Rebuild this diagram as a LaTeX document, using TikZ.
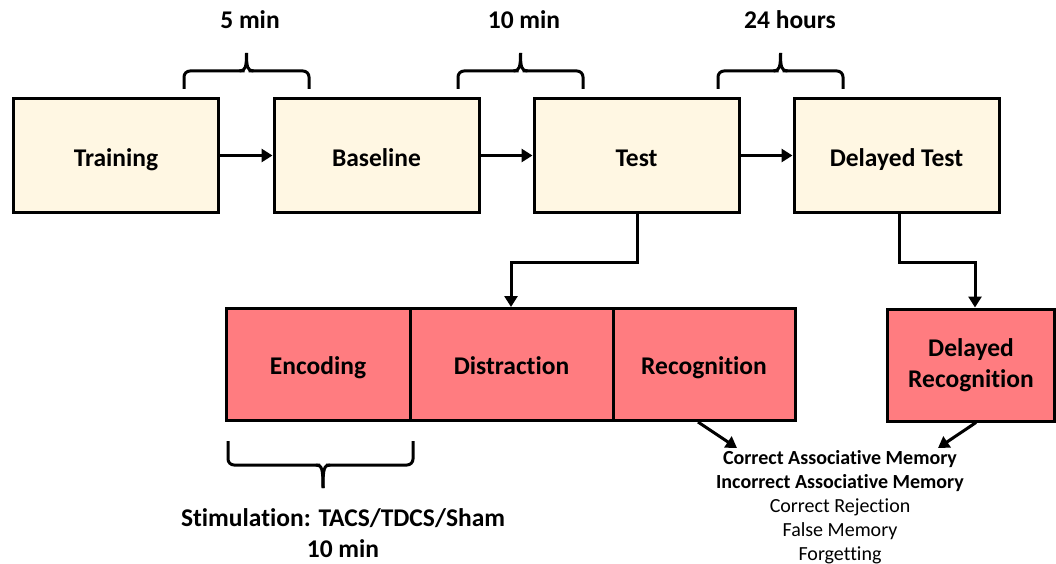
\documentclass[tikz,border=0pt]{standalone}
\usepackage{fontspec}
\setmainfont{Carlito}[Ligatures=NoCommon]
\usetikzlibrary{arrows.meta}
\definecolor{beige}{HTML}{FFF7E3}
\definecolor{pinkred}{HTML}{FF7C80}
\begin{document}
\begin{tikzpicture}[x=1pt,y=-1pt,
  stage/.style={draw=black, line width=3pt, fill=beige, minimum width=205pt, minimum height=114pt, inner sep=0pt, text height=22pt, text depth=0pt, font=\fontsize{25.5}{30}\selectfont\bfseries},
  phase/.style={draw=black, line width=3pt, fill=pinkred, minimum height=112pt, inner sep=0pt, align=center, font=\fontsize{25.5}{31}\selectfont\bfseries},
  oneline/.style={text height=19pt, text depth=0pt},
  conn/.style={line width=3pt, -{Triangle[length=11pt,width=13pt]}},
  brace/.style={line width=3pt, rounded corners=6pt},
  lbl/.style={font=\fontsize{25.5}{30.5}\selectfont\bfseries, align=center, inner sep=0pt},
  outcome/.style={font=\fontsize{20}{24}\selectfont, align=center, inner sep=0pt}
]
\useasboundingbox (0,0) rectangle (1056,564);

% top row
\node[stage] (train) at (116,155.5) {Training};
\node[stage] (base) at (376.5,155.5) {Baseline};
\node[stage] (test) at (636.5,155.5) {Test};
\node[stage] (dtest) at (896.5,155.5) {Delayed Test};

\draw[conn] (train.east) -- (base.west);
\draw[conn] (base.east) -- (test.west);
\draw[conn] (test.east) -- (dtest.west);

% bottom row
\node[phase, oneline, minimum width=184pt] (enc) at (318,364.5) {Encoding};
\node[phase, oneline, minimum width=203pt] (dis) at (511.5,364.5) {Distraction};
\node[phase, oneline, minimum width=182pt] (rec) at (704,364.5) {Recognition};
\node[phase, minimum width=167pt] (drec) at (971,365) {Delayed\\Recognition};

% connectors
\draw[conn] (test.south -| 637,0) |- (511,262) -- (dis.north -| 511,0);
\draw[conn] (dtest.south -| 899,0) |- (975,262) -- (drec.north -| 975,0);

% outcomes
\node[outcome] (out) at (840,507) {\textbf{Correct Associative Memory}\\\textbf{Incorrect Associative Memory}\\Correct Rejection\\False Memory\\Forgetting};
\coordinate (o1) at (737,448);
\coordinate (o2) at (938,448);
\draw[conn] (rec.south -| 698,0) -- (o1);
\draw[conn] (drec.south -| 976,0) -- (o2);

% top braces and labels
\node[lbl, anchor=base] (t1) at (250,28.5) {5 min};
\node[lbl, anchor=base] (t2) at (524,28.5) {10 min};
\node[lbl, anchor=base] (t3) at (790,28.5) {24 hours};
\foreach \a/\b in {184/309, 458/583, 718/843}{
  \pgfmathsetmacro{\m}{(\a+\b)/2}
  \draw[brace] (\a,89) -- (\a,71) -- (\m-2,71);
  \draw[brace] (\b,89) -- (\b,71) -- (\m+2,71);
  \draw[line width=3pt] (\m-7,71) .. controls (\m-1,71) and (\m,67) .. (\m,53);
  \draw[line width=3pt] (\m+7,71) .. controls (\m+1,71) and (\m,67) .. (\m,53);
}

% bottom brace
\draw[brace] (228,441) -- (228,465) -- (320,465);
\draw[brace] (413,441) -- (413,465) -- (326,465);
\draw[line width=3pt] (316,465) .. controls (322,465) and (323,469) .. (323,488);
\draw[line width=3pt] (330,465) .. controls (324,465) and (323,469) .. (323,488);
\node[lbl] (stim) at (343,533) {Stimulation: TACS/TDCS/Sham\\10 min};
\end{tikzpicture}
\end{document}
